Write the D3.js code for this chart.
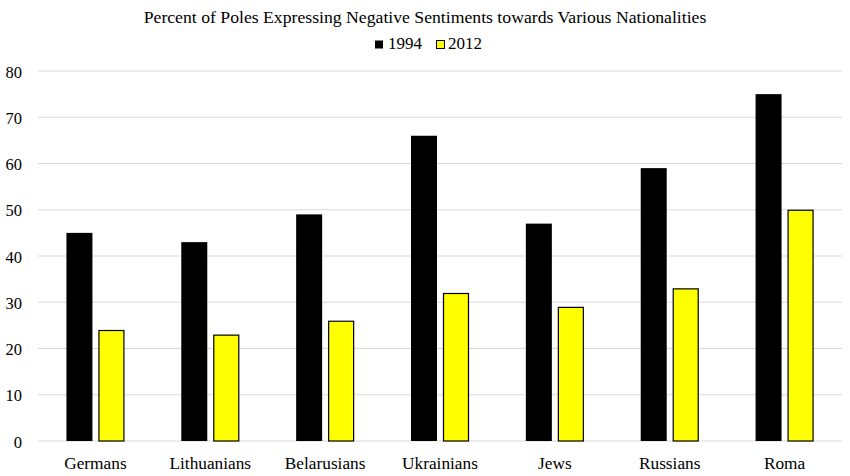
<!DOCTYPE html>
<html><head><meta charset="utf-8">
<script src="https://cdn.jsdelivr.net/npm/d3@7"></script>
<style>body{margin:0;background:#fff}svg{display:block}</style>
</head><body><svg id="c" width="850" height="476"></svg>
<script>
const categories = ["Germans","Lithuanians","Belarusians","Ukrainians","Jews","Russians","Roma"];
const series = ["1994","2012"];
const values1994 = [45,43,49,66,47,59,75];
const values2012 = [24,23,26,32,29,33,50];
const yTicks = [0,10,20,30,40,50,60,70,80];
const colors = ["#000000","#ffff00"];
const FONT = "Liberation Serif";

const svg = d3.select("#c");
const m = {l:38, r:8, t:71, b:35};
const W = 850, H = 476;
const x = d3.scaleBand().domain(categories).range([m.l, W-m.r]).paddingInner(0).paddingOuter(0);
const y = d3.scaleLinear().domain([0,80]).range([H-m.b, m.t]);
const barW = 26, gap = 6;

svg.append("g").selectAll("line").data(yTicks).join("line")
  .attr("x1", m.l).attr("x2", W-m.r).attr("y1", d=>y(d)).attr("y2", d=>y(d))
  .attr("stroke", "#d9d9d9").attr("stroke-width", 1);

svg.append("g").selectAll("text").data(yTicks).join("text")
  .attr("font-family", FONT)
  .attr("x", 22).attr("y", d=>y(d)+6.5).attr("text-anchor","end")
  .attr("font-size", 16.5).text(d=>d);

const data = categories.map((c,i)=>({c, v:[values1994[i], values2012[i]]}));
const g = svg.append("g");
data.forEach(d=>{
  const cx = x(d.c) + x.bandwidth()/2;
  d.v.forEach((v,j)=>{
    const x0 = j===0 ? cx - gap/2 - barW : cx + gap/2;
    g.append("rect").attr("x", x0 + (j===1?0.5:0)).attr("y", y(v)+(j===1?0.5:0))
      .attr("width", barW - (j===1?1:0)).attr("height", y(0)-y(v)-(j===1?0.5:0))
      .attr("fill", colors[j]).attr("stroke", j===1?"#000":"none").attr("stroke-width", 1.2);
  });
});

svg.append("g").selectAll("text").data(categories).join("text")
  .attr("font-family", FONT)
  .attr("x", d=>x(d)+x.bandwidth()/2).attr("y", 469).attr("text-anchor","middle")
  .attr("font-size", 17.3).text(d=>d);

svg.append("text").attr("font-family", FONT).attr("x", 425).attr("y", 23).attr("text-anchor","middle")
  .attr("font-size", 17.7).text("Percent of Poles Expressing Negative Sentiments towards Various Nationalities");

const leg = svg.append("g");
const legItems = [{t:"1994",x:375},{t:"2012",x:436}];
legItems.forEach((it,j)=>{
  leg.append("rect").attr("x", it.x + (j===1?0.5:0)).attr("y", 40.5).attr("width", j===1?8:8).attr("height", 8)
    .attr("fill", colors[j]).attr("stroke", j===1?"#000":"none").attr("stroke-width",1);
  leg.append("text").attr("font-family", FONT).attr("x", it.x+(j===1?12:13)).attr("y", 48.5).attr("font-size", 17).text(it.t);
});
</script></body></html>
